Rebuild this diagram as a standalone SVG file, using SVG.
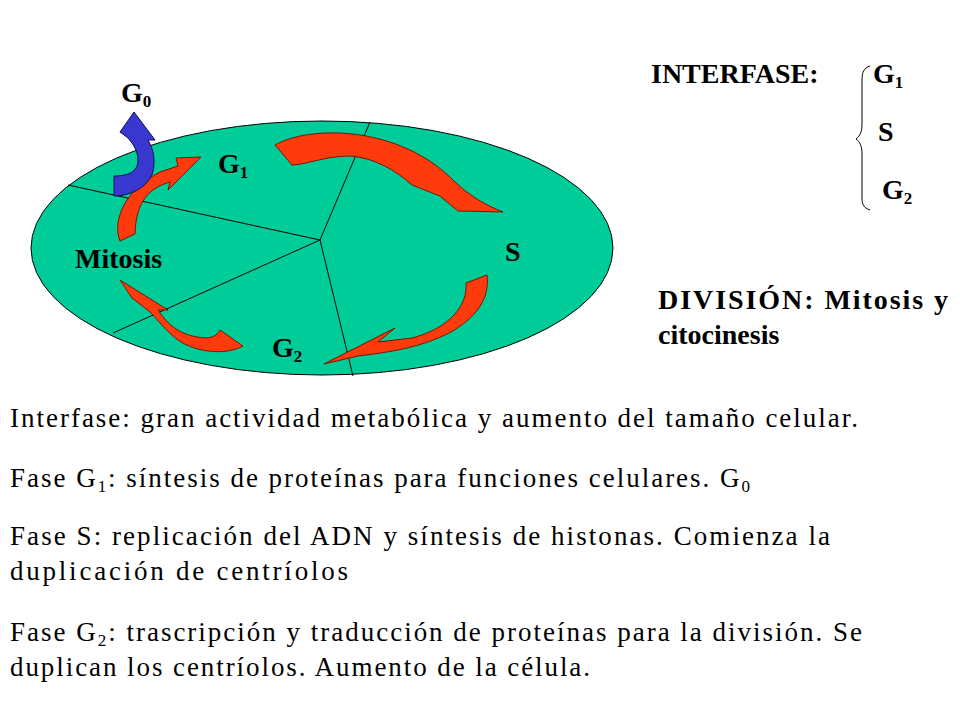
<svg xmlns="http://www.w3.org/2000/svg" width="960" height="720" viewBox="0 0 960 720">
<style>
.lbl{font-family:"Liberation Serif",serif;font-weight:bold;font-size:28px;fill:#000}
.sub{font-size:17px}
.body{font-family:"Liberation Serif",serif;font-size:27px;fill:#000}
.bsub{font-size:17px}
.ar{fill:#ff3a0c;stroke:#7a1500;stroke-width:1}
.bl{fill:#3838d0;stroke:#10104a;stroke-width:1}
.ln{stroke:#000;stroke-width:1;fill:none}
</style>
<rect width="960" height="720" fill="#fff"/>
<g id="cell">
<ellipse cx="322" cy="248" rx="291" ry="127" fill="#00cc99" stroke="#000" stroke-width="1"/>
<path class="ln" d="M320,240 L370,122 M320,240 L68,185 M320,240 L113,333 M320,240 L353,376"/>
</g>
<g id="connectors">
<path class="ar" d="M275,145 C310,125 400,125 455,182 C470,196 485,205 503,212 L458,211 L440,196 L412,185 C395,170 375,158 350,156 C325,156 305,165 292,165 Z"/>
<path class="ar" d="M466,283 C468,305 450,328 412,338 L378,342 L395,328 L324,364 L358,356 C390,352 420,348 451,332 C475,318 490,300 487,275 Z"/>
<path class="ar" d="M243,346 C225,356 195,352 178,340 C165,330 158,320 150,312 L132,298 L120,280 L168,310 L158,310 C168,325 180,336 205,338 C215,338 218,333 220,330 Z"/>
<path class="ar" d="M120,241 C112,220 125,190 160,172 L178,166 L176,158 L201,157 L168,190 L170,182 C150,188 136,200 135,234 Z"/>
<path class="bl" d="M114,196 L114,176 C128,176 138,172 138,160 C138,150 132,143 128,138 L120,132 L134,112 L155,140 L148,140 C154,150 156,162 152,175 C146,188 130,196 114,196 Z"/>
</g>
<g id="labels">
<text class="lbl" x="121" y="102">G<tspan class="sub" dy="5">0</tspan></text>
<text class="lbl" x="218" y="173">G<tspan class="sub" dy="5">1</tspan></text>
<text class="lbl" x="505" y="261">S</text>
<text class="lbl" x="75" y="268">Mitosis</text>
<text class="lbl" x="272" y="357">G<tspan class="sub" dy="5">2</tspan></text>
</g>
<g id="legend">
<text class="lbl" x="651" y="83">INTERFASE:</text>
<text class="lbl" x="873" y="83">G<tspan class="sub" dy="5">1</tspan></text>
<text class="lbl" x="878" y="141">S</text>
<text class="lbl" x="882" y="199">G<tspan class="sub" dy="5">2</tspan></text>
<path class="ln" d="M870,66 C864,68 862,72 862,80 L862,124 C862,132 860,136 856,139 C860,142 862,146 862,154 L862,198 C862,205 864,208 870,210"/>
<text class="lbl" x="658" y="309" textLength="290" lengthAdjust="spacing">DIVISIÓN: Mitosis y</text>
<text class="lbl" x="658" y="344">citocinesis</text>
</g>
<g id="text">
<text class="body" x="10" y="427" textLength="848" lengthAdjust="spacing">Interfase: gran actividad metabólica y aumento del tamaño celular.</text>
<text class="body" x="10" y="487" textLength="740" lengthAdjust="spacing">Fase G<tspan class="bsub" dy="5">1</tspan><tspan dy="-5">: síntesis de proteínas para funciones celulares. G</tspan><tspan class="bsub" dy="5">0</tspan></text>
<text class="body" x="10" y="545" textLength="820" lengthAdjust="spacing">Fase S: replicación del ADN y síntesis de histonas. Comienza la</text>
<text class="body" x="10" y="580" textLength="338" lengthAdjust="spacing">duplicación de centríolos</text>
<text class="body" x="10" y="641" textLength="852" lengthAdjust="spacing">Fase G<tspan class="bsub" dy="5">2</tspan><tspan dy="-5">: trascripción y traducción de proteínas para la división. Se</tspan></text>
<text class="body" x="10" y="676" textLength="580" lengthAdjust="spacing">duplican los centríolos. Aumento de la célula.</text>
</g>
</svg>
